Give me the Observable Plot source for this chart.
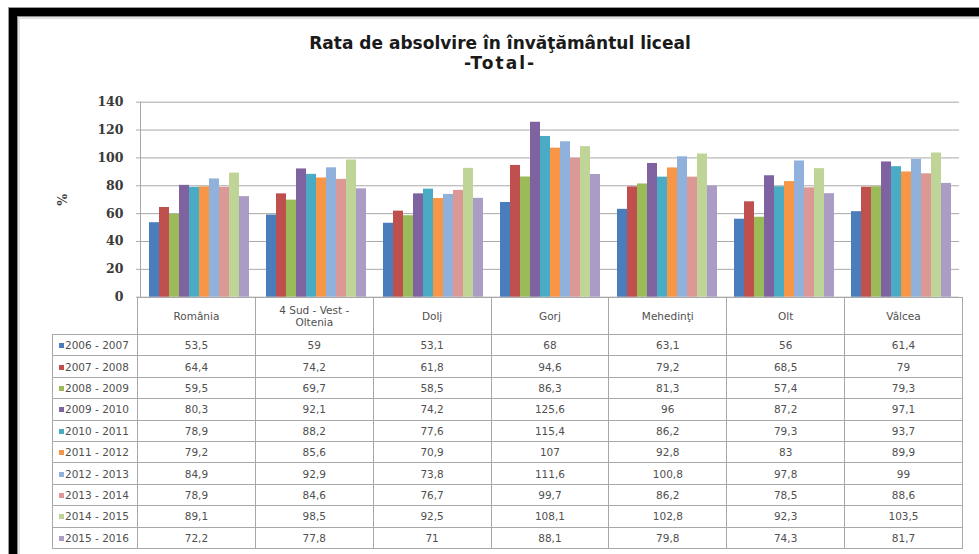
<!DOCTYPE html>
<html><head><meta charset="utf-8">
<script src="https://cdn.jsdelivr.net/npm/d3@7"></script>
<script src="https://cdn.jsdelivr.net/npm/@observablehq/plot@0.6"></script>
<style>
body{margin:0;background:#fff;width:979px;height:554px;overflow:hidden;position:relative;font-family:"Liberation Sans",Arial,sans-serif;}
#frame{position:absolute;left:9px;top:8px;width:1000px;height:600px;border:8px solid #000;box-sizing:border-box;box-shadow:inset 0 0 0 1px #8a8a8a, inset 0 0 0 3px #e2e2e2, 0 0 0 1px #9a9a9a;}
#title{position:absolute;left:0;top:33px;width:1000px;text-align:center;font-family:"DejaVu Sans",sans-serif;font-weight:bold;font-size:17px;line-height:20px;color:#1a1a1a;}
#title .l2{letter-spacing:2px;}
#chart{position:absolute;left:0;top:80px;}
#tbl{position:absolute;left:52px;top:297px;}
#tbl table{border-collapse:collapse;table-layout:fixed;width:910px;}
#tbl td{border:1px solid #a8a8a8;padding:0;text-align:center;font-family:"DejaVu Sans",sans-serif;font-size:10.5px;color:#505050;height:20.4px;line-height:12px;overflow:hidden;white-space:nowrap;}
#tbl tr.head td{height:36px;white-space:normal;}
#tbl td.corner{border-top-style:hidden;border-left-style:hidden;}
#tbl td.leg{text-align:left;padding-left:6px;}
#tbl .sw{display:inline-block;width:5px;height:5px;margin-right:1px;vertical-align:1px;}
#tbl .hl{display:inline-block;max-width:80px;}
</style></head>
<body>
<div id="frame"></div>
<div id="title">Rata de absolvire în învăţământul liceal<br><span class="l2">-Total-</span></div>
<div id="chart"></div>
<div id="tbl"></div>
<script>
const categories = ["România", "4 Sud - Vest - Oltenia", "Dolj", "Gorj", "Mehedinţi", "Olt", "Vâlcea"];
const years = ["2006 - 2007", "2007 - 2008", "2008 - 2009", "2009 - 2010", "2010 - 2011",
               "2011 - 2012", "2012 - 2013", "2013 - 2014", "2014 - 2015", "2015 - 2016"];
const colors = ["#4a7dbb", "#c0504d", "#9bbb59", "#7f63a1", "#4aabc5", "#f79646",
                "#91b1dd", "#dc9895", "#bfd598", "#ab9cc6"];
const yTicks = [0, 20, 40, 60, 80, 100, 120, 140];

const v2006_2007 = [53.5, 59, 53.1, 68, 63.1, 56, 61.4];
const v2007_2008 = [64.4, 74.2, 61.8, 94.6, 79.2, 68.5, 79];
const v2008_2009 = [59.5, 69.7, 58.5, 86.3, 81.3, 57.4, 79.3];
const v2009_2010 = [80.3, 92.1, 74.2, 125.6, 96, 87.2, 97.1];
const v2010_2011 = [78.9, 88.2, 77.6, 115.4, 86.2, 79.3, 93.7];
const v2011_2012 = [79.2, 85.6, 70.9, 107, 92.8, 83, 89.9];
const v2012_2013 = [84.9, 92.9, 73.8, 111.6, 100.8, 97.8, 99];
const v2013_2014 = [78.9, 84.6, 76.7, 99.7, 86.2, 78.5, 88.6];
const v2014_2015 = [89.1, 98.5, 92.5, 108.1, 102.8, 92.3, 103.5];
const v2015_2016 = [72.2, 77.8, 71, 88.1, 79.8, 74.3, 81.7];

const rows = [v2006_2007, v2007_2008, v2008_2009, v2009_2010, v2010_2011,
              v2011_2012, v2012_2013, v2013_2014, v2014_2015, v2015_2016];

const data = [];
rows.forEach((vals, i) => vals.forEach((v, j) => data.push({year: years[i], cat: categories[j], value: v})));

const chart = Plot.plot({
  width: 979,
  height: 230,
  marginLeft: 137,
  marginRight: 17,
  marginTop: 21.7,
  marginBottom: 13.3,
  fx: {domain: categories, padding: 0, axis: null, label: null},
  x: {domain: years, axis: null, paddingInner: 0, paddingOuter: 0.72},
  y: {domain: [0, 140]},
  color: {domain: years, range: colors},
  style: {background: "transparent", overflow: "visible"},
  marks: [
    Plot.gridY(yTicks, {stroke: "#a9a9a9", strokeOpacity: 1}),
    Plot.barY(data, {fx: "cat", x: "year", y: "value", fill: "year"}),
    Plot.axisY(yTicks, {
      tickSize: 4, tickPadding: 13, stroke: "#a9a9a9",
      fontFamily: "DejaVu Serif", fontWeight: "bold", fontSize: 12.5, fill: "#3a3a3a",
      label: "%", labelAnchor: "center", labelOffset: 82, labelArrow: "none"
    }),
    Plot.frame({anchor: "left", fx: categories[0], stroke: "#a9a9a9"})
  ]
});
document.getElementById("chart").appendChild(chart);

// data table under the chart
const table = d3.select("#tbl").append("table");
const cg = table.append("colgroup");
cg.append("col").style("width", "85px");
categories.forEach(() => cg.append("col").style("width", (825 / categories.length) + "px"));
const head = table.append("tr").attr("class", "head");
head.append("td").attr("class", "corner");
categories.forEach(c => head.append("td").append("span").attr("class", "hl").text(c));
rows.forEach((vals, i) => {
  const tr = table.append("tr");
  const lg = tr.append("td").attr("class", "leg");
  lg.append("span").attr("class", "sw").style("background", colors[i]);
  lg.append("span").text(years[i]);
  vals.forEach(v => tr.append("td").text(String(v).replace(".", ",")));
});
</script>
</body></html>
